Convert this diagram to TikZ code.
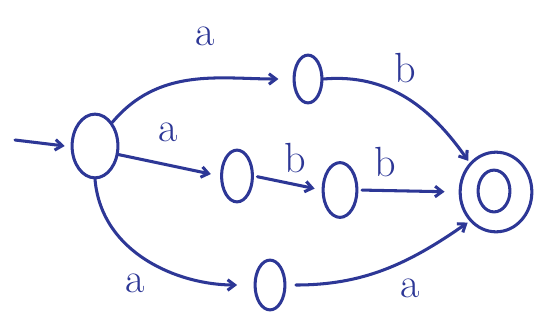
\documentclass[tikz,border=0pt]{standalone}
\usetikzlibrary{arrows.meta,shapes.geometric}

\definecolor{ink}{RGB}{45,55,150}

\begin{document}
\begin{tikzpicture}[x=0.03cm, y=-0.03cm, >={Straight Barb[length=6pt,width=9pt]},
	line width=2.6pt, line cap=round, draw=ink, text=ink,
	st/.style={ellipse, draw, inner sep=0pt},
	lbl/.style={font=\fontsize{36}{38}\selectfont}]
		\useasboundingbox (0,0) rectangle (542,325);
		\coordinate (init) at (15,140);
		\node[st, minimum width=46*0.85pt, minimum height=64*0.85pt] (s0) at (95,146) {};
		\node[st, minimum width=28*0.85pt, minimum height=48*0.85pt] (q1) at (308,79) {};
		\node[st, minimum width=31*0.85pt, minimum height=52*0.85pt] (m1) at (237,176) {};
		\node[st, minimum width=34*0.85pt, minimum height=55*0.85pt] (m2) at (340,190) {};
		\node[st, minimum width=30*0.85pt, minimum height=50*0.85pt] (q4) at (270,285) {};
		\node[st, minimum width=72*0.85pt, minimum height=80*0.85pt] (f) at (496,192) {};
		\node[st, minimum width=32*0.85pt, minimum height=42*0.85pt] (fi) at (494,191) {};
		% edges
		\draw[->] (init) -- ([xshift=-5pt]s0.west);
		\draw[->, shorten >=12pt] (s0.north east) to[out=50, in=180] (q1.west);
		\draw[->, shorten >=2pt] (q1.east) to[out=5, in=125] (f.north west);
		\draw[->, shorten >=8pt] (s0.-20) to (m1.west);
		\draw[->, shorten >=6pt, shorten <=3pt] (m1.east) to (m2.west);
		\draw[->, shorten >=12pt, shorten <=3pt] (m2.east) to (f.west);
		\draw[->, shorten >=14pt] (s0.south) to[out=-85, in=180] (q4.west);
		\draw[->, shorten <=8pt, shorten >=2pt] (q4.east) to[out=0, in=-145] (f.south west);
		% labels
		\node[lbl] (la1) at (205,36) {a};
		\node[lbl] (lb1) at (405,68) {b};
		\node[lbl] (la2) at (168,132) {a};
		\node[lbl] (lb2) at (295,158) {b};
		\node[lbl] (lb3) at (385,162) {b};
		\node[lbl] (la3) at (135,283) {a};
		\node[lbl] (la4) at (410,288) {a};
	\end{tikzpicture}
\end{document}
